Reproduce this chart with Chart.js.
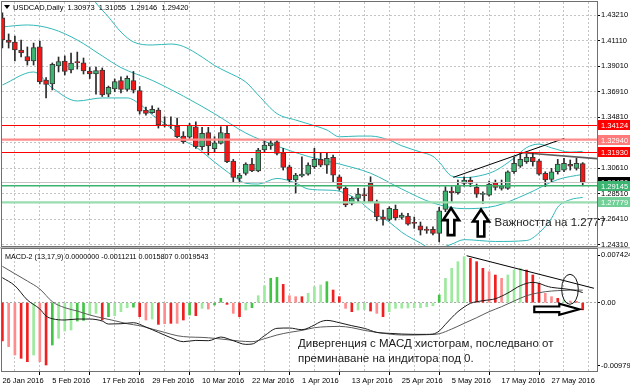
<!DOCTYPE html>
<html><head><meta charset="utf-8">
<script src="https://cdn.jsdelivr.net/npm/chart.js@4.4.1/dist/chart.umd.min.js"></script>
<style>
html,body{margin:0;padding:0;background:#fff;}
#wrap{position:relative;width:630px;height:388px;overflow:hidden;background:#fff;}
canvas{position:absolute;left:0;}
#c1{top:0;}
#c2{top:247px;}
</style></head><body>
<div id="wrap"><canvas id="c1" width="630" height="247"></canvas><canvas id="c2" width="630" height="141"></canvas></div>
<script>
// ---------------- DATA ----------------
const symbol = 'USDCAD';
const timeframe = 'Daily';
const dateLabels = ['26 Jan 2016','5 Feb 2016','17 Feb 2016','29 Feb 2016','10 Mar 2016','22 Mar 2016','1 Apr 2016','13 Apr 2016','25 Apr 2016','5 May 2016','17 May 2016','27 May 2016'];
const open = [1.4297,1.4115,1.4099,1.4033,1.3979,1.3942,1.4058,1.3786,1.3753,1.3901,
1.3942,1.3868,1.3932,1.3928,1.3860,1.3835,1.3868,1.3670,1.3712,1.3782,
1.3708,1.3782,1.3699,1.3539,1.3516,1.3539,1.3415,1.3409,1.3407,1.3324,
1.3314,1.3401,1.3236,1.3352,1.3220,1.3264,1.3347,1.3118,1.2976,1.3017,
1.3094,1.3038,1.3209,1.3242,1.3277,1.3187,1.3071,1.2962,1.2995,1.3011,
1.3071,1.3132,1.3085,1.3149,1.2989,1.2893,1.2770,1.2811,1.2838,1.2935,
1.2783,1.2659,1.2638,1.2721,1.2654,1.2665,1.2610,1.2585,1.2550,1.2556,
1.2523,1.2720,1.2871,1.2857,1.2935,1.2962,1.2902,1.2844,1.2838,1.2940,
1.2893,1.2893,1.3030,1.3077,1.3113,1.3149,1.3121,1.3017,1.2968,1.3030,
1.3044,1.3091,1.3058,1.30973];
const high = [1.4338,1.4165,1.4148,1.4115,1.4058,1.4090,1.4107,1.3806,1.3926,1.3975,
1.3984,1.4008,1.4016,1.3967,1.3889,1.3893,1.3885,1.3736,1.3794,1.3811,
1.3819,1.3856,1.3732,1.3563,1.3574,1.3555,1.3483,1.3483,1.3473,1.3360,
1.3429,1.3442,1.3396,1.3396,1.3319,1.3401,1.3407,1.3132,1.3017,1.3104,
1.3141,1.3223,1.3286,1.3291,1.3291,1.3223,1.3085,1.3017,1.3154,1.3104,
1.3223,1.3182,1.3182,1.3168,1.3003,1.2907,1.2824,1.2893,1.2893,1.2989,
1.2797,1.2715,1.2742,1.2756,1.2690,1.2687,1.2657,1.2616,1.2577,1.2577,
1.2737,1.2907,1.2907,1.2962,1.2989,1.2984,1.2929,1.2865,1.2954,1.2962,
1.2962,1.3038,1.3154,1.3182,1.3176,1.3182,1.3132,1.3030,1.3058,1.3132,
1.3141,1.3127,1.3141,1.31055];
const low = [1.4049,1.4049,1.3942,1.3975,1.3909,1.3909,1.3753,1.3638,1.3704,1.3852,
1.3827,1.3844,1.3876,1.3835,1.3798,1.3670,1.3650,1.3648,1.3689,1.3679,
1.3695,1.3679,1.3506,1.3497,1.3511,1.3390,1.3399,1.3388,1.3310,1.3264,
1.3305,1.3223,1.3209,1.3168,1.3195,1.3258,1.3104,1.2940,1.2948,1.3003,
1.3030,1.3030,1.3195,1.3215,1.3168,1.3044,1.2948,1.2855,1.2987,1.3003,
1.3058,1.3071,1.3017,1.2948,1.2879,1.2742,1.2756,1.2783,1.2783,1.2775,
1.2626,1.2591,1.2626,1.2632,1.2640,1.2591,1.2564,1.2509,1.2523,1.2509,
1.2453,1.2701,1.2783,1.2846,1.2912,1.2907,1.2819,1.2770,1.2830,1.2879,
1.2879,1.2885,1.3017,1.3066,1.3099,1.3077,1.3003,1.2907,1.2948,1.3011,
1.3030,1.3044,1.3044,1.29146];
const close = [1.4115,1.4095,1.4033,1.4008,1.3942,1.4053,1.3769,1.3749,1.3914,1.3937,
1.3856,1.3926,1.3929,1.3860,1.3835,1.3864,1.3662,1.3726,1.3772,1.3709,
1.3800,1.3703,1.3530,1.3511,1.3544,1.3415,1.3411,1.3413,1.3319,1.3277,
1.3415,1.3236,1.3347,1.3242,1.3269,1.3352,1.3113,1.2984,1.3003,1.3094,
1.3038,1.3209,1.3250,1.3269,1.3182,1.3066,1.2962,1.3003,1.3011,1.3085,
1.3132,1.3085,1.3141,1.3003,1.2893,1.2756,1.2811,1.2846,1.2834,1.2783,
1.2659,1.2638,1.2729,1.2649,1.2673,1.2599,1.2605,1.2550,1.2547,1.2523,
1.2709,1.2874,1.2857,1.2921,1.2962,1.2935,1.2846,1.2846,1.2929,1.2902,
1.2912,1.3030,1.3099,1.3132,1.3149,1.3113,1.3011,1.2962,1.3030,1.3094,
1.3099,1.3077,1.3099,1.29420];

// Bollinger bands (bar index, price)
const bbUpperBar = [12,15,17,19,21,24,27,29,32,34,36,39,41,44,47,49,52,54,57,59,62,64,67,69,70,72,74,77,79,82,84,86,88,91,93];
const bbUpperVal = [1.4651,1.4420,1.4305,1.4181,1.4099,1.4074,1.4082,1.4062,1.3975,1.3905,1.3852,1.3769,1.3662,1.3509,1.3456,1.3425,1.3374,1.3318,1.3324,1.3324,1.3291,1.3244,1.3193,1.3157,1.3110,1.2995,1.2982,1.3003,1.3039,1.3143,1.3229,1.3258,1.3227,1.3192,1.3198];
const bbMidBar = [0,4,8,12,16,19,24,29,34,39,44,49,54,59,64,69,74,79,84,89,93];
const bbMidVal = [1.4223,1.4239,1.4206,1.4115,1.3984,1.3888,1.3783,1.3653,1.3508,1.3349,1.3242,1.3156,1.3094,1.3018,1.2888,1.2773,1.2726,1.2748,1.2846,1.2966,1.3009];
const bbLowBar = [0,5,8,12,16,20,22,24,27,29,31,34,37,39,41,44,47,49,52,54,57,59,62,64,67,69,72,74,79,84,86,88,89,91,93];
const bbLowVal = [1.3745,1.3852,1.3720,1.3613,1.3638,1.3638,1.3588,1.3499,1.3390,1.3291,1.3234,1.3110,1.2995,1.2935,1.2929,1.2975,1.2937,1.2888,1.2879,1.2870,1.2797,1.2711,1.2616,1.2532,1.2443,1.2389,1.2434,1.2471,1.2456,1.2464,1.2527,1.2647,1.2739,1.2800,1.2819];

const priceTicks = [1.43210,1.41110,1.39010,1.36910,1.34810,1.32710,1.30610,1.28510,1.26410,1.24310];
const levels = [1.34124,1.32940,1.31930,1.29420,1.29145,1.27779];

const trendUpBar = [72.26, 90.05];   const trendUpPrice = [1.2984, 1.3305];
const trendFlatBar = [83.48, 95.29]; const trendFlatPrice = [1.3187, 1.3138];
const arrowUpBar = [71.9, 76.7];     const arrowUpPrice = [1.2731, 1.2719];
const noteText = 'Важността на 1.2777'; const noteBar = 78.86; const notePrice = 1.2583;

// MACD panel
const macdTitle = 'MACD-2 (13,17,9) 0.0000000 -0.0011211 0.0015807 0.0019543';
const macdTickVals = [0.007424, 0, -0.009795];
const macdTickLabels = ['0.007424','0.00','-0.009795'];
const hist = [-0.00598,-0.00686,-0.00816,-0.00868,-0.00920,-0.00816,-0.00920,-0.00972,-0.00660,-0.00556,
-0.00442,-0.00426,-0.00286,-0.00276,-0.00192,-0.00166,-0.00270,-0.00218,-0.00203,-0.00140,
-0.00078,-0.00070,-0.00218,-0.00270,-0.00255,-0.00338,-0.00328,-0.00322,-0.00322,-0.00270,
-0.00192,-0.00203,-0.00088,-0.00099,-0.00036,0.00068,-0.00026,-0.00166,-0.00218,-0.00114,
-0.00078,0.00109,0.00265,0.00380,0.00395,0.00286,0.00109,0.00094,0.00094,0.00146,
0.00250,0.00276,0.00328,0.00198,0.00094,-0.00088,-0.00140,-0.00114,-0.00105,-0.00130,
-0.00166,-0.00218,-0.00140,-0.00088,-0.00085,-0.00082,-0.00080,-0.00078,-0.00062,-0.00047,
0.00120,0.00380,0.00536,0.00640,0.00718,0.00692,0.00640,0.00536,0.00484,0.00432,
0.00380,0.00432,0.00510,0.00536,0.00510,0.00432,0.00302,0.00146,0.00094,0.00068,
0.00042,0.00026,0.00016,-0.00112];
const histState = ['R','P','P','R','R','L','P','R','G','L','L','L','G','G','L','L','R','G','L','L',
'L','G','R','P','L','R','P','R','P','R','G','R','L','P','G','G','R','P','R','L',
'G','L','L','G','G','R','P','P','R','L','L','L','G','R','R','P','R','L','L','R',
'P','R','L','L','L','L','L','L','L','L','G','L','L','L','L','R','R','R','P','R',
'P','L','L','L','R','R','R','P','P','R','L','P','R','R'];
const macdMainBar = [0,2,4,6,7,8,10,12,14,16,17,19,21,23,25,27,29,31,33,35,37,39,40,42,44,46,48,50,51,52,54,56,58,60,62,64,66,68,69,70,71,72,73,74,75,77,79,81,83,85,86,87,88,90,92,93];
const macdMainVal = [0.00390,0.00265,0.00042,-0.00099,-0.00208,-0.00250,-0.00270,-0.00255,-0.00255,-0.00286,-0.00333,-0.00328,-0.00312,-0.00380,-0.00463,-0.00546,-0.00608,-0.00588,-0.00593,-0.00536,-0.00593,-0.00650,-0.00645,-0.00515,-0.00400,-0.00395,-0.00421,-0.00348,-0.00296,-0.00276,-0.00312,-0.00359,-0.00400,-0.00463,-0.00478,-0.00489,-0.00494,-0.00494,-0.00489,-0.00442,-0.00338,-0.00234,-0.00140,-0.00068,-0.00010,0.00031,0.00062,0.00151,0.00265,0.00317,0.00302,0.00265,0.00239,0.00218,0.00187,0.00158];
const macdSigBar = [0,2,4,6,8,10,12,14,16,18,20,22,24,26,28,30,32,34,36,38,40,42,44,46,48,50,52,54,56,58,60,62,64,66,68,70,72,74,76,78,80,82,84,86,88,90,92,93];
const macdSigVal = [0.00567,0.00452,0.00338,0.00213,0.00016,-0.00078,-0.00130,-0.00192,-0.00239,-0.00281,-0.00328,-0.00359,-0.00411,-0.00463,-0.00515,-0.00536,-0.00541,-0.00556,-0.00577,-0.00598,-0.00608,-0.00562,-0.00504,-0.00463,-0.00432,-0.00390,-0.00374,-0.00369,-0.00390,-0.00432,-0.00463,-0.00489,-0.00504,-0.00504,-0.00499,-0.00484,-0.00411,-0.00322,-0.00234,-0.00140,-0.00062,0.00026,0.00109,0.00156,0.00182,0.00192,0.00198,0.00195];
const macdTrendBar = [74.4, 94.8]; const macdTrendVal = [0.00733, 0.00225];
const macdNoteLines = ['Дивергенция с МАСД хистограм, последвано от', 'преминаване на индитора под 0.'];
const macdNoteBar = 47.37; const macdNoteVal = -0.00686;
const macdCircleBar = 90.96; const macdCircleVal = 0.00209;
const macdArrowBar = 92.45; const macdArrowVal = -0.00103;

// ---------------- STYLE / SCALES ----------------
const FONT = '"Liberation Sans", Arial, sans-serif';
const UP = '#3cb371', DOWN = '#f21818', BB = '#33b8b8';
const HIST_COLORS = {R:'#f02020', P:'#ff8c8c', G:'#44c444', L:'#9de99d'};
const LEVEL_STYLE = [
  {line:'#ff0000', w:1, box:'#ff0000'},
  {line:'#ff8c8c', w:2.2, box:'#ff7a7a'},
  {line:'#ff0000', w:1, box:'#ff0000'},
  {line:'#c4c4c4', w:1, box:'#000000'},
  {line:'#3cb371', w:1.4, box:'#3cb371'},
  {line:'#98dcb0', w:2.2, box:'#72cf98'}
];
const XMIN = -0.064, XMAX = 95.29;
const PMIN = 1.24187, PMAX = 1.44281;
const MMIN = -0.010655, MMAX = 0.008377;
const GRID = '#c4c4c4';

const bars = open.map((_, i) => i);
const gridBars = []; for (let b = 0; b <= 92; b += 4) gridBars.push(b);
const pts = (xs, ys) => xs.map((x, k) => ({x, y: ys[k]}));
const tickFont = {family: FONT, size: 7.5};

const common = {responsive:false, animation:false, devicePixelRatio:1, events:[],
  plugins:{legend:{display:false}, tooltip:{enabled:false}}};

function xScale(withLabels) {
  return {type:'linear', min:XMIN, max:XMAX, offset:false,
    afterBuildTicks: s => { s.ticks = gridBars.map(v => ({value:v})); },
    afterFit: s => { s.height = withLabels ? 17 : 0; s.paddingLeft = 0; s.paddingRight = 0; },
    ticks: withLabels ? {display:true, autoSkip:false, maxRotation:0, minRotation:0, align:'start', padding:1,
      font: tickFont, color:'#000', callback: v => (v % 8 === 0 ? dateLabels[v / 8] : '')} : {display:false},
    grid: {color: GRID, drawTicks: withLabels, tickLength: 4,
      tickColor: c => (c.tick && c.tick.value % 8 === 0) ? '#000' : 'rgba(0,0,0,0)'},
    border: {display:false, dash:[2,2]}
  };
}

function upArrow(ctx, px, py) {
  const hw = 8, hh = 12, sw = 3.3, len = 27;
  ctx.beginPath();
  ctx.moveTo(px, py); ctx.lineTo(px + hw, py + hh); ctx.lineTo(px + sw, py + hh);
  ctx.lineTo(px + sw, py + len); ctx.lineTo(px - sw, py + len); ctx.lineTo(px - sw, py + hh);
  ctx.lineTo(px - hw, py + hh); ctx.closePath();
  ctx.fillStyle = '#fff'; ctx.fill();
  ctx.lineWidth = 2.6; ctx.strokeStyle = '#000'; ctx.lineJoin = 'miter'; ctx.stroke();
}
function rightArrow(ctx, px, py) {
  const len = 45, hl = 20, hh = 5.5, sh = 2.8;
  ctx.beginPath();
  ctx.moveTo(px, py); ctx.lineTo(px - hl, py - hh); ctx.lineTo(px - hl, py - sh);
  ctx.lineTo(px - len, py - sh); ctx.lineTo(px - len, py + sh); ctx.lineTo(px - hl, py + sh);
  ctx.lineTo(px - hl, py + hh); ctx.closePath();
  ctx.fillStyle = '#fff'; ctx.fill();
  ctx.lineWidth = 2.2; ctx.strokeStyle = '#000'; ctx.stroke();
}

const mainDecor = {
  id: 'mainDecor',
  afterDatasetsDraw(chart) {
    const {ctx, chartArea: a, scales: {x, y}} = chart;
    ctx.save();
    ctx.beginPath(); ctx.rect(a.left, a.top, a.width, a.height); ctx.clip();
    levels.forEach((lv, k) => {
      const st = LEVEL_STYLE[k];
      let py = y.getPixelForValue(lv);
      if (st.w <= 1) py = Math.round(py) + 0.5;
      ctx.strokeStyle = st.line; ctx.lineWidth = st.w;
      ctx.beginPath(); ctx.moveTo(a.left, py); ctx.lineTo(a.right, py); ctx.stroke();
    });
    arrowUpBar.forEach((b, k) => upArrow(ctx, x.getPixelForValue(b), y.getPixelForValue(arrowUpPrice[k])));
    ctx.restore();
    ctx.save();
    ctx.font = '11.5px ' + FONT; ctx.fillStyle = '#1a1a1a'; ctx.textBaseline = 'alphabetic'; ctx.textAlign = 'left';
    ctx.fillText(noteText, x.getPixelForValue(noteBar), y.getPixelForValue(notePrice));
    ctx.restore();
  },
  afterDraw(chart) {
    const {ctx, chartArea: a, scales: {y}} = chart;
    ctx.save();
    ctx.font = '7.5px ' + FONT; ctx.textBaseline = 'middle'; ctx.textAlign = 'left';
    levels.forEach((lv, k) => {
      const py = Math.round(y.getPixelForValue(lv));
      ctx.fillStyle = LEVEL_STYLE[k].box;
      ctx.fillRect(a.right + 1, py - 5, 33, 10);
      ctx.fillStyle = '#fff';
      ctx.fillText(lv.toFixed(5), a.right + 4, py + 0.5);
    });
    ctx.strokeStyle = '#707070'; ctx.lineWidth = 1;
    ctx.strokeRect(a.left - 0.5, a.top - 0.5, a.width + 1, a.height + 1);
    ctx.fillStyle = '#000';
    ctx.beginPath(); ctx.moveTo(4, 5); ctx.lineTo(10, 5); ctx.lineTo(7, 9); ctx.closePath(); ctx.fill();
    const last = close.length - 1;
    const title = symbol + ',' + timeframe + '  ' + [open[last], high[last], low[last], close[last]].map(v => v.toFixed(5)).join('  ');
    ctx.font = '7.5px ' + FONT; ctx.textBaseline = 'middle';
    ctx.fillText(title, 13, 7.5);
    ctx.restore();
  }
};

new Chart(document.getElementById('c1'), {
  type: 'bar',
  data: {datasets: [
    {type:'bar', data: bars.map(i => ({x:i, y:[open[i], close[i]]})), grouped:false, barThickness:5, minBarLength:1,
      backgroundColor: c => close[c.dataIndex] >= open[c.dataIndex] ? UP : DOWN,
      borderColor:'#3a3a3a', borderWidth:1, borderSkipped:false, order:0},
    {type:'bar', data: bars.map(i => ({x:i, y:[low[i], high[i]]})), grouped:false, barThickness:1,
      backgroundColor:'#2a2a2a', borderWidth:0, order:1},
    {type:'line', data: pts(trendUpBar, trendUpPrice), borderColor:'#000', borderWidth:1, pointRadius:0, order:2},
    {type:'line', data: pts(trendFlatBar, trendFlatPrice), borderColor:'#5c5c5c', borderWidth:1.6, pointRadius:0, order:2},
    {type:'line', data: pts(bbUpperBar, bbUpperVal), borderColor:BB, borderWidth:1, pointRadius:0, cubicInterpolationMode:'monotone', order:3},
    {type:'line', data: pts(bbMidBar, bbMidVal), borderColor:BB, borderWidth:1, pointRadius:0, cubicInterpolationMode:'monotone', order:3},
    {type:'line', data: pts(bbLowBar, bbLowVal), borderColor:BB, borderWidth:1, pointRadius:0, cubicInterpolationMode:'monotone', order:3}
  ]},
  options: Object.assign({}, common, {
    layout: {autoPadding:false, padding:{left:2, top:2, right:0, bottom:1}},
    scales: {
      x: xScale(false),
      y: {type:'linear', position:'right', min:PMIN, max:PMAX,
        afterBuildTicks: s => { s.ticks = priceTicks.map(v => ({value:v})); },
        afterFit: s => { s.width = 33; s.paddingTop = 0; s.paddingBottom = 0; },
        ticks: {font: tickFont, color:'#000', padding:1, callback: v => v.toFixed(5)},
        grid: {color: GRID, drawTicks:true, tickLength:3, tickColor:'#000'},
        border: {display:false, dash:[2,2]}
      }
    }
  }),
  plugins: [mainDecor]
});

const macdDecor = {
  id: 'macdDecor',
  beforeDraw(chart) {
    const {ctx} = chart;
    ctx.save(); ctx.fillStyle = '#b8b8b8'; ctx.fillRect(0, 0, chart.width, 1.5); ctx.restore();
  },
  afterDraw(chart) {
    const {ctx, chartArea: a, scales: {x, y}} = chart;
    ctx.save();
    ctx.strokeStyle = '#707070'; ctx.lineWidth = 1;
    ctx.strokeRect(a.left - 0.5, a.top - 0.5, a.width + 1, a.height + 1);
    ctx.fillStyle = '#000'; ctx.font = '7.2px ' + FONT; ctx.textBaseline = 'middle'; ctx.textAlign = 'left';
    ctx.fillText(macdTitle, 5, 9.7);
    ctx.beginPath();
    ctx.ellipse(x.getPixelForValue(macdCircleBar), y.getPixelForValue(macdCircleVal), 8.3, 15, 0, 0, Math.PI * 2);
    ctx.strokeStyle = '#111'; ctx.lineWidth = 1; ctx.stroke();
    rightArrow(ctx, x.getPixelForValue(macdArrowBar), y.getPixelForValue(macdArrowVal));
    ctx.fillStyle = '#1a1a1a'; ctx.font = '11.5px ' + FONT; ctx.textBaseline = 'alphabetic';
    const nx = x.getPixelForValue(macdNoteBar), ny = y.getPixelForValue(macdNoteVal);
    macdNoteLines.forEach((t, k) => ctx.fillText(t, nx, ny + k * 15));
    ctx.restore();
  }
};

new Chart(document.getElementById('c2'), {
  type: 'bar',
  data: {datasets: [
    {type:'line', data: pts(macdMainBar, macdMainVal), borderColor:'#1a1a1a', borderWidth:1, pointRadius:0, cubicInterpolationMode:'monotone', order:0},
    {type:'line', data: pts(macdSigBar, macdSigVal), borderColor:'#5a5a5a', borderWidth:1, pointRadius:0, cubicInterpolationMode:'monotone', order:1},
    {type:'line', data: pts(macdTrendBar, macdTrendVal), borderColor:'#000', borderWidth:1, pointRadius:0, order:0},
    {type:'bar', data: bars.map(i => ({x:i, y:hist[i]})), grouped:false, barThickness:2,
      backgroundColor: c => HIST_COLORS[histState[c.dataIndex]], borderWidth:0, order:2}
  ]},
  options: Object.assign({}, common, {
    layout: {autoPadding:false, padding:{left:2, top:2, right:0, bottom:0}},
    scales: {
      x: xScale(true),
      y: {type:'linear', position:'right', min:MMIN, max:MMAX,
        afterBuildTicks: s => { s.ticks = macdTickVals.map(v => ({value:v})); },
        afterFit: s => { s.width = 33; s.paddingTop = 0; s.paddingBottom = 0; },
        ticks: {font: tickFont, color:'#000', padding:1, callback: (v, i) => macdTickLabels[i]},
        grid: {color: c => (c.tick && c.tick.value === 0) ? '#a8a8a8' : 'rgba(0,0,0,0)', drawTicks:true, tickLength:3, tickColor:'#000'},
        border: {display:false, dash:[2,2]}
      }
    }
  }),
  plugins: [macdDecor]
});
</script>
</body></html>
